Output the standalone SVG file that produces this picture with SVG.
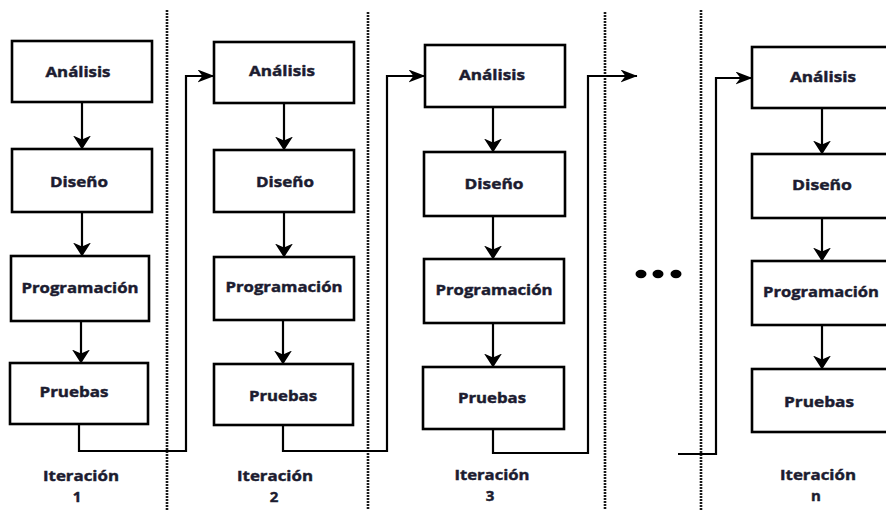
<svg xmlns="http://www.w3.org/2000/svg" width="886" height="510" viewBox="0 0 886 510">
<style>
.box{fill:#ffffff;stroke:#000000;stroke-width:2.6}
.lbl{font-family:"Open Sans","Liberation Sans",sans-serif;font-weight:bold;font-size:15px;fill:#1c1c30;stroke:#1c1c30;stroke-width:0.45;text-anchor:middle}
.flow{fill:none;stroke:#000000;stroke-width:2.2}
.sep{fill:none;stroke:#1a1a1a;stroke-width:2.6;stroke-dasharray:2 1}
</style>
<defs>
<marker id="ahV" markerUnits="userSpaceOnUse" markerWidth="14" markerHeight="18" viewBox="0 0 14 18" refX="13.5" refY="9" orient="auto">
<path d="M0,0 L14,9 L0,18 L4,9 Z" fill="#000000"/>
</marker>
<marker id="ahH" markerUnits="userSpaceOnUse" markerWidth="17" markerHeight="13" viewBox="0 0 17 13" refX="16.5" refY="6.5" orient="auto">
<path d="M0,0 L17,6.5 L0,13 L5,6.5 Z" fill="#000000"/>
</marker>
</defs>
<rect width="886" height="510" fill="#ffffff"/>
<g id="separators">
<line class="sep" x1="167" y1="10" x2="167" y2="510"/>
<line class="sep" x1="368" y1="12" x2="368" y2="510"/>
<line class="sep" x1="605" y1="12" x2="605" y2="510"/>
<line class="sep" x1="701" y1="10" x2="701" y2="510"/>
</g>
<g id="connectors">
<line class="flow" x1="82" y1="102" x2="82" y2="149" marker-end="url(#ahV)"/>
<line class="flow" x1="82" y1="212" x2="82" y2="256" marker-end="url(#ahV)"/>
<line class="flow" x1="81" y1="321" x2="81" y2="363" marker-end="url(#ahV)"/>
<line class="flow" x1="284" y1="103" x2="284" y2="150" marker-end="url(#ahV)"/>
<line class="flow" x1="284" y1="212" x2="284" y2="257" marker-end="url(#ahV)"/>
<line class="flow" x1="283" y1="320" x2="283" y2="364" marker-end="url(#ahV)"/>
<line class="flow" x1="493" y1="107" x2="493" y2="152" marker-end="url(#ahV)"/>
<line class="flow" x1="493" y1="216" x2="493" y2="259" marker-end="url(#ahV)"/>
<line class="flow" x1="493" y1="323" x2="493" y2="367" marker-end="url(#ahV)"/>
<line class="flow" x1="822" y1="108" x2="822" y2="154" marker-end="url(#ahV)"/>
<line class="flow" x1="822" y1="218" x2="822" y2="261" marker-end="url(#ahV)"/>
<line class="flow" x1="822" y1="325" x2="822" y2="369" marker-end="url(#ahV)"/>
<path class="flow" d="M79,424 V451 H186 V76 H214" marker-end="url(#ahH)"/>
<path class="flow" d="M283,425 V451 H387 V76 H425" marker-end="url(#ahH)"/>
<path class="flow" d="M493,429 V453 H588 V76 H637" marker-end="url(#ahH)"/>
<path class="flow" d="M678,454 H716 V78 H752" marker-end="url(#ahH)"/>
</g>
<g id="col1-analisis"><rect class="box" x="12" y="41" width="140" height="61"/><text class="lbl" x="78" y="77" textLength="65" lengthAdjust="spacingAndGlyphs">Análisis</text></g>
<g id="col1-diseno"><rect class="box" x="12" y="149" width="140" height="63"/><text class="lbl" x="79" y="187" textLength="58" lengthAdjust="spacingAndGlyphs">Diseño</text></g>
<g id="col1-programacion"><rect class="box" x="11" y="256" width="138" height="65"/><text class="lbl" x="80" y="293" textLength="117" lengthAdjust="spacingAndGlyphs">Programación</text></g>
<g id="col1-pruebas"><rect class="box" x="10" y="363" width="138" height="61"/><text class="lbl" x="74" y="397" textLength="69" lengthAdjust="spacingAndGlyphs">Pruebas</text></g>
<g id="col2-analisis"><rect class="box" x="214" y="42" width="140" height="61"/><text class="lbl" x="282" y="76" textLength="66" lengthAdjust="spacingAndGlyphs">Análisis</text></g>
<g id="col2-diseno"><rect class="box" x="214" y="150" width="140" height="62"/><text class="lbl" x="285" y="187" textLength="58" lengthAdjust="spacingAndGlyphs">Diseño</text></g>
<g id="col2-programacion"><rect class="box" x="214" y="257" width="140" height="63"/><text class="lbl" x="284" y="292" textLength="117" lengthAdjust="spacingAndGlyphs">Programación</text></g>
<g id="col2-pruebas"><rect class="box" x="214" y="364" width="139" height="61"/><text class="lbl" x="283" y="401" textLength="68" lengthAdjust="spacingAndGlyphs">Pruebas</text></g>
<g id="col3-analisis"><rect class="box" x="425" y="45" width="140" height="62"/><text class="lbl" x="492" y="80" textLength="66" lengthAdjust="spacingAndGlyphs">Análisis</text></g>
<g id="col3-diseno"><rect class="box" x="424" y="152" width="141" height="64"/><text class="lbl" x="494" y="189" textLength="59" lengthAdjust="spacingAndGlyphs">Diseño</text></g>
<g id="col3-programacion"><rect class="box" x="424" y="259" width="140" height="64"/><text class="lbl" x="494" y="295" textLength="117" lengthAdjust="spacingAndGlyphs">Programación</text></g>
<g id="col3-pruebas"><rect class="box" x="423" y="367" width="141" height="62"/><text class="lbl" x="492" y="403" textLength="68" lengthAdjust="spacingAndGlyphs">Pruebas</text></g>
<g id="coln-analisis"><rect class="box" x="752" y="47" width="140" height="61"/><text class="lbl" x="823" y="82" textLength="66" lengthAdjust="spacingAndGlyphs">Análisis</text></g>
<g id="coln-diseno"><rect class="box" x="752" y="154" width="140" height="64"/><text class="lbl" x="822" y="190" textLength="60" lengthAdjust="spacingAndGlyphs">Diseño</text></g>
<g id="coln-programacion"><rect class="box" x="752" y="261" width="140" height="64"/><text class="lbl" x="821" y="297" textLength="116" lengthAdjust="spacingAndGlyphs">Programación</text></g>
<g id="coln-pruebas"><rect class="box" x="752" y="369" width="140" height="63"/><text class="lbl" x="819" y="407" textLength="70" lengthAdjust="spacingAndGlyphs">Pruebas</text></g>
<g id="ellipsis">
<ellipse cx="641" cy="274" rx="5.5" ry="4.2" fill="#000000"/>
<ellipse cx="658" cy="274" rx="5.5" ry="4.2" fill="#000000"/>
<ellipse cx="676" cy="274" rx="5.5" ry="4.2" fill="#000000"/>
</g>
<g id="labels">
<text class="lbl"><tspan x="81" y="481" textLength="76" lengthAdjust="spacingAndGlyphs">Iteración</tspan><tspan x="77" y="502">1</tspan></text>
<text class="lbl"><tspan x="275" y="481" textLength="76" lengthAdjust="spacingAndGlyphs">Iteración</tspan><tspan x="274" y="502">2</tspan></text>
<text class="lbl"><tspan x="492" y="480" textLength="75" lengthAdjust="spacingAndGlyphs">Iteración</tspan><tspan x="490" y="501">3</tspan></text>
<text class="lbl"><tspan x="818" y="480" textLength="76" lengthAdjust="spacingAndGlyphs">Iteración</tspan><tspan x="816" y="501">n</tspan></text>
</g>
</svg>
